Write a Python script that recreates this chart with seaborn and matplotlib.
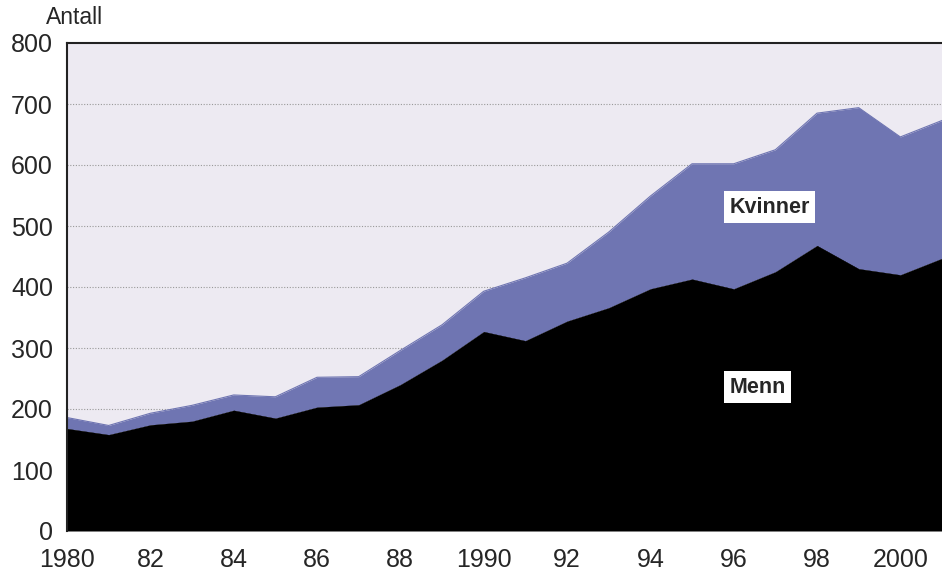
import matplotlib
matplotlib.use("Agg")
import matplotlib.pyplot as plt
import seaborn as sns
import pandas as pd
import numpy as np

years = list(range(1980, 2002))
menn = [168, 158, 174, 180, 198, 185, 203, 207, 240, 280, 327, 312, 344, 366, 397, 413, 397, 425, 468, 430, 420, 447]
totalt = [186, 173, 193, 206, 223, 220, 252, 253, 296, 338, 393, 415, 439, 490, 549, 602, 602, 625, 685, 694, 646, 673]
kvinner = [t - m for t, m in zip(totalt, menn)]
tick_years = [1980, 1982, 1984, 1986, 1988, 1990, 1992, 1994, 1996, 1998, 2000]
tick_labels = ["1980", "82", "84", "86", "88", "1990", "92", "94", "96", "98", "2000"]

df = pd.DataFrame({"År": years, "Menn": menn, "Totalt": totalt, "Kvinner": kvinner})

sns.set_style("white")
plt.rcParams["font.family"] = ["Liberation Sans", "DejaVu Sans"]

fig = plt.figure(figsize=(9.42, 5.75), dpi=100)
ax = fig.add_axes([67 / 942, 1 - 531 / 575, 1 - 67 / 942, (531 - 43) / 575])
ax.set_facecolor("#EDEAF2")

sns.lineplot(data=df, x="År", y="Totalt", ax=ax, color="#6F75B2", linewidth=0.8)
sns.lineplot(data=df, x="År", y="Menn", ax=ax, color="black", linewidth=0.8)
ax.fill_between(df["År"], df["Menn"], df["Totalt"], color="#6F75B2", linewidth=0, zorder=2)
ax.fill_between(df["År"], 0, df["Menn"], color="black", linewidth=0, zorder=2)

ax.set_xlim(1980, 2001)
ax.set_ylim(0, 800)
ax.set_yticks(range(0, 801, 100))
ax.set_yticklabels([str(v) for v in range(0, 801, 100)], fontsize=18)
ax.set_xticks(years, minor=False)
ax.set_xticklabels([tick_labels[tick_years.index(y)] if y in tick_years else "" for y in years], fontsize=18)
ax.tick_params(axis="both", direction="out", length=6, width=0.8, color="#333333", pad=4)
ax.tick_params(axis="x", pad=6)

for v in range(100, 800, 100):
    ax.axhline(v, color="#999999", linestyle=(0, (1, 1.5)), linewidth=0.8, zorder=1)

for s in ["right", "bottom"]:
    ax.spines[s].set_visible(False)
ax.spines["left"].set_color("#222222")
ax.spines["left"].set_linewidth(1.5)
ax.spines["top"].set_color("#222222")
ax.spines["top"].set_linewidth(1.5)

ax.set_xlabel("")
ax.set_ylabel("")
fig.text(46 / 942, 1 - 17 / 575, "Antall", fontsize=16.5, va="center", ha="left")

box = dict(facecolor="white", edgecolor="none", pad=4)
ax.text(1995.9, 531, "Kvinner", fontsize=15.5, fontweight="bold", ha="left", va="center", bbox=box, zorder=5)
ax.text(1995.9, 236, "Menn", fontsize=15.5, fontweight="bold", ha="left", va="center", bbox=box, zorder=5)

fig.savefig("out.png", dpi=100)
